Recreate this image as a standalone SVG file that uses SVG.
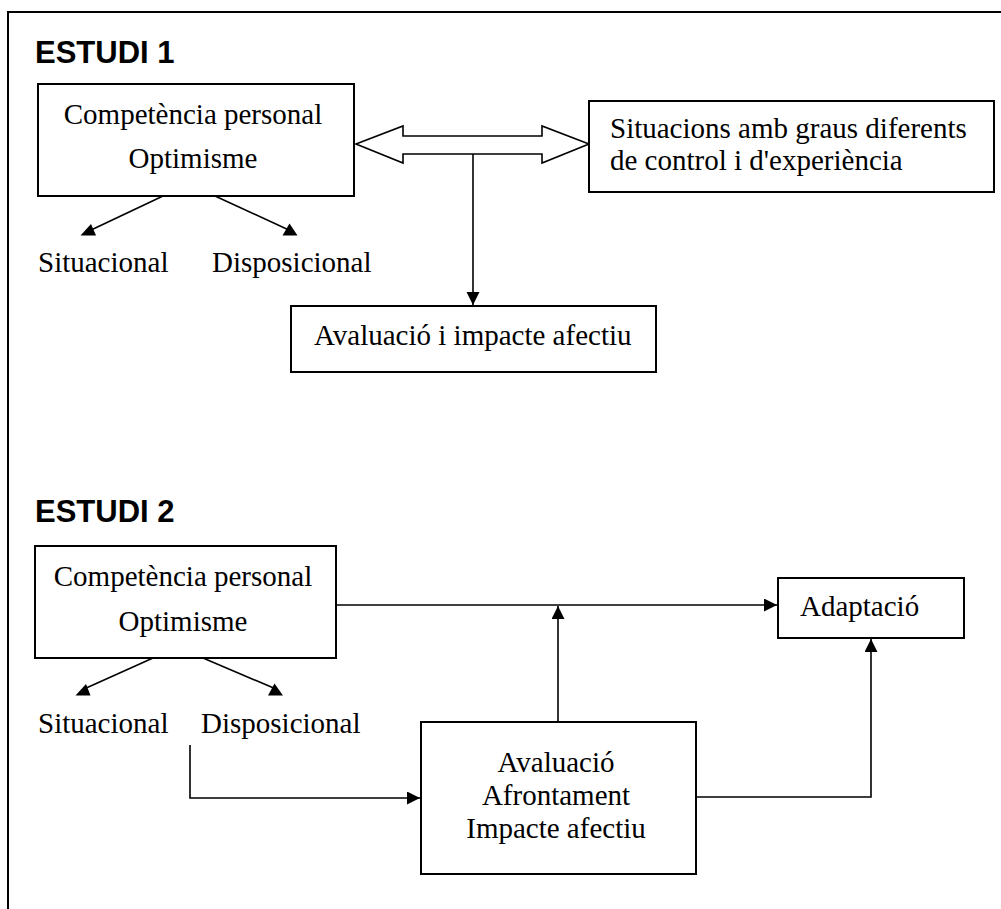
<svg xmlns="http://www.w3.org/2000/svg" width="1001" height="909" viewBox="0 0 1001 909">
<style>
.box{fill:#fff;stroke:#000;stroke-width:2}
.ln{fill:none;stroke:#000;stroke-width:1.6}
.hd{fill:#000;stroke:none}
.t{font-family:"Liberation Serif","Times New Roman",serif;font-size:29px;fill:#000}
.h{font-family:"Liberation Sans",Arial,sans-serif;font-size:31px;font-weight:bold;fill:#000}
.m{text-anchor:middle}
</style>
<defs>
<marker id="ah" markerUnits="userSpaceOnUse" markerWidth="14" markerHeight="14" refX="13" refY="6.5" orient="auto">
<path d="M0,0 L13,6.5 L0,13 z" fill="#000"/>
</marker>
</defs>
<rect width="1001" height="909" fill="#fff"/>
<path d="M8,909 L8,12 L1001,12" fill="none" stroke="#000" stroke-width="2"/>
<text class="h" x="35" y="63">ESTUDI 1</text>
<text class="h" x="35" y="522">ESTUDI 2</text>
<g id="connectors">
<polygon class="ln" points="356,144 403,126 403,136 542,136 542,126 589,144 542,163 542,154 403,154 403,163" style="fill:#fff"/>
<line class="ln" x1="473" y1="154" x2="473" y2="305" marker-end="url(#ah)"/>
<line class="ln" x1="163" y1="196" x2="89" y2="231"/>
<polygon class="hd" points="80.5,235.5 96,235.5 91,224"/>
<line class="ln" x1="215" y1="196" x2="291" y2="231"/>
<polygon class="hd" points="282.5,235.5 297.5,235.5 289.5,223.5"/>
<line class="ln" x1="153" y1="658" x2="84" y2="689"/>
<polygon class="hd" points="75.5,695.5 90.5,695.5 86,684"/>
<line class="ln" x1="203" y1="658" x2="276" y2="689"/>
<polygon class="hd" points="268,695.5 283,695.5 274.5,683.5"/>
<line class="ln" x1="336" y1="605" x2="777" y2="605" marker-end="url(#ah)"/>
<line class="ln" x1="558" y1="722" x2="558" y2="606" marker-end="url(#ah)"/>
<polyline class="ln" points="190,745 190,798 420,798" marker-end="url(#ah)"/>
<polyline class="ln" points="696,797 871,797 871,639" marker-end="url(#ah)"/>
</g>
<g id="n1">
<rect class="box" x="38" y="84" width="316" height="112"/>
<text class="t m" x="193" y="124">Competència personal</text>
<text class="t m" x="193" y="168">Optimisme</text>
</g>
<g id="n1s"><text class="t" x="38" y="272">Situacional</text></g>
<g id="n1d"><text class="t" x="212" y="272">Disposicional</text></g>
<g id="n2">
<rect class="box" x="589" y="101" width="405" height="91"/>
<text class="t" x="610" y="138">Situacions amb graus diferents</text>
<text class="t" x="610" y="170">de control i d'experiència</text>
</g>
<g id="n3">
<rect class="box" x="291" y="306" width="365" height="66"/>
<text class="t" x="314" y="345">Avaluació i impacte afectiu</text>
</g>
<g id="n4">
<rect class="box" x="35" y="546" width="301" height="112"/>
<text class="t m" x="183" y="586">Competència personal</text>
<text class="t m" x="183" y="631">Optimisme</text>
</g>
<g id="n4s"><text class="t" x="38" y="733">Situacional</text></g>
<g id="n4d"><text class="t" x="201" y="733">Disposicional</text></g>
<g id="n5">
<rect class="box" x="778" y="578" width="186" height="60"/>
<text class="t" x="800" y="616">Adaptació</text>
</g>
<g id="n6">
<rect class="box" x="421" y="722" width="275" height="152"/>
<text class="t m" x="556" y="772">Avaluació</text>
<text class="t m" x="556" y="805">Afrontament</text>
<text class="t m" x="556" y="838">Impacte afectiu</text>
</g>
</svg>
